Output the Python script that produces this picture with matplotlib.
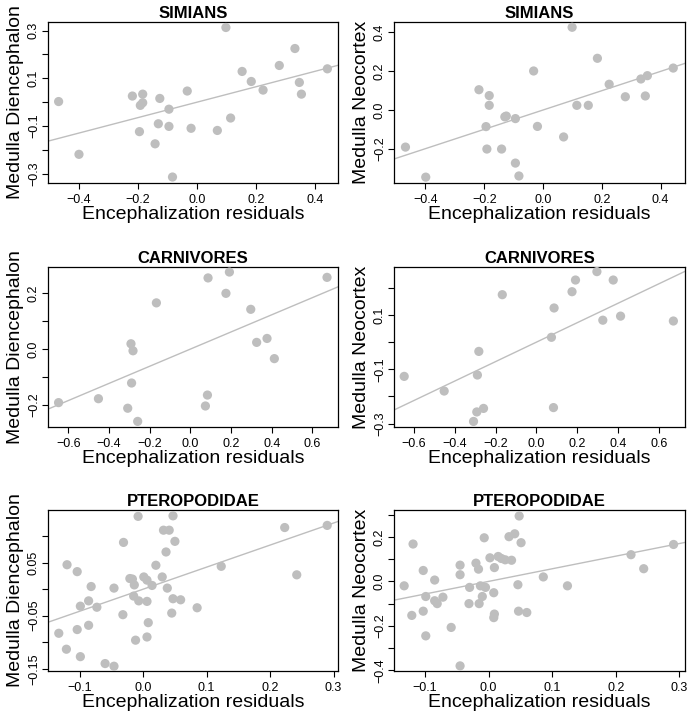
import matplotlib
matplotlib.use("Agg")
import matplotlib.pyplot as plt
import numpy as np

plt.rcParams['font.family'] = ['Liberation Sans', 'DejaVu Sans']

# ---------------- data ----------------
simians_x = [-0.468, -0.399, -0.218, -0.183, -0.191, -0.183, -0.194, -0.125, -0.130, -0.141,
             -0.094, -0.094, -0.082, -0.032, -0.019, 0.070, 0.099, 0.115, 0.154, 0.185,
             0.225, 0.280, 0.333, 0.348, 0.355, 0.443]
simians_dien = [0.003, -0.218, 0.026, 0.034, -0.013, -0.002, -0.123, 0.016, -0.090, -0.174,
                -0.029, -0.101, -0.313, 0.047, -0.109, -0.118, 0.313, -0.066, 0.129, 0.087,
                0.051, 0.154, 0.225, 0.083, 0.034, 0.140]
simians_neo = [-0.190, -0.344, 0.104, 0.074, -0.200, 0.024, -0.085, -0.031, -0.035, -0.200,
               -0.044, -0.272, -0.338, 0.200, -0.084, -0.138, 0.424, 0.024, 0.024, 0.265,
               0.132, 0.068, 0.159, 0.072, 0.176, 0.215]

carn_x = [-0.648, -0.452, -0.308, -0.292, -0.282, -0.289, -0.259, -0.167, 0.074, 0.084,
          0.087, 0.175, 0.192, 0.297, 0.326, 0.377, 0.413, 0.672]
carn_dien = [-0.191, -0.177, -0.211, 0.019, -0.006, -0.121, -0.258, 0.165, -0.203, -0.164,
             0.254, 0.199, 0.275, 0.142, 0.024, 0.038, -0.034, 0.256]
carn_neo = [-0.126, -0.180, -0.292, -0.257, -0.034, -0.121, -0.244, 0.175, 0.018, -0.241,
            0.126, 0.186, 0.229, 0.260, 0.081, 0.229, 0.096, 0.078]

ptero_x_dien = [-0.133, -0.121, -0.120, -0.104, -0.104, -0.099, -0.099, -0.086, -0.086, -0.082,
                -0.073, -0.060, -0.046, -0.046, -0.032, -0.031, -0.021, -0.017, -0.015, -0.014,
                -0.012, -0.008, -0.007, 0.001, 0.006, 0.006, 0.006, 0.008, 0.014, 0.020,
                0.030, 0.032, 0.036, 0.038, 0.041, 0.045, 0.047, 0.047, 0.050, 0.059,
                0.085, 0.123, 0.223, 0.242, 0.290]
ptero_dien = [-0.083, -0.113, 0.046, 0.033, -0.076, -0.127, -0.032, -0.022, -0.068, 0.005,
              -0.034, -0.140, 0.002, -0.145, -0.048, 0.088, 0.020, 0.019, -0.013, 0.008,
              -0.096, 0.137, -0.022, 0.023, 0.017, -0.023, -0.090, -0.063, 0.007, 0.045,
              0.023, 0.111, 0.070, 0.002, 0.111, -0.045, 0.138, -0.018, 0.090, -0.020,
              -0.035, 0.043, 0.116, 0.027, 0.120]
ptero_x_neo = [-0.133, -0.121, -0.119, -0.103, -0.103, -0.099, -0.099, -0.085, -0.085, -0.081,
               -0.072, -0.059, -0.045, -0.045, -0.045, -0.031, -0.030, -0.020, -0.016, -0.015,
               -0.013, -0.010, -0.007, -0.005, 0.002, 0.008, 0.008, 0.009, 0.009, 0.015,
               0.020, 0.026, 0.032, 0.036, 0.041, 0.046, 0.047, 0.048, 0.051, 0.060,
               0.086, 0.124, 0.224, 0.244, 0.291]
ptero_neo = [-0.020, -0.153, 0.168, 0.049, -0.134, -0.068, -0.245, 0.006, -0.087, -0.100,
             -0.071, -0.207, 0.073, 0.030, -0.380, -0.100, -0.027, 0.082, 0.055, -0.100,
             -0.020, -0.068, 0.196, -0.027, 0.106, -0.051, -0.163, 0.062, -0.147, 0.112,
             0.103, 0.097, 0.201, 0.095, 0.214, -0.015, -0.134, 0.294, 0.174, -0.140,
             0.020, -0.020, 0.120, 0.057, 0.166]

# fitted lines (slope, intercept)
fit_slopes = [0.323, 0.495, 0.306, 0.358, 0.415, 0.567]
fit_intercepts = [0.0, 0.0, 0.0, 0.0, 0.0, 0.0]

titles = ["SIMIANS", "SIMIANS", "CARNIVORES", "CARNIVORES", "PTEROPODIDAE", "PTEROPODIDAE"]
ylabels = ["Medulla Diencephalon", "Medulla Neocortex"] * 3
xlabel = "Encephalization residuals"

M = "\u2212"
xticks_sim = [-0.4, -0.2, 0.0, 0.2, 0.4]
xticklabels_sim = [M + "0.4", M + "0.2", "0.0", "0.2", "0.4"]
xticks_carn = [-0.6, -0.4, -0.2, 0.0, 0.2, 0.4, 0.6]
xticklabels_carn = [M + "0.6", M + "0.4", M + "0.2", "0.0", "0.2", "0.4", "0.6"]
xticks_pt = [-0.1, 0.0, 0.1, 0.2, 0.3]
xticklabels_pt = [M + "0.1", "0.0", "0.1", "0.2", "0.3"]

yticks = [
    [-0.3, -0.2, -0.1, 0.0, 0.1, 0.2, 0.3],
    [-0.2, 0.0, 0.2, 0.4],
    [-0.2, -0.1, 0.0, 0.1, 0.2],
    [-0.3, -0.2, -0.1, 0.0, 0.1, 0.2],
    [-0.15, -0.10, -0.05, 0.0, 0.05, 0.10],
    [-0.4, -0.3, -0.2, -0.1, 0.0, 0.1, 0.2, 0.3],
]
yticklabels = [
    [M + "0.3", "", M + "0.1", "", "0.1", "", "0.3"],
    [M + "0.2", "0.0", "0.2", "0.4"],
    [M + "0.2", "", "0.0", "", "0.2"],
    [M + "0.3", "", M + "0.1", "", "0.1", ""],
    [M + "0.15", "", M + "0.05", "", "0.05", ""],
    [M + "0.4", "", M + "0.2", "", "0.0", "", "0.2", ""],
]

xlims = [(-0.504, 0.479), (-0.507, 0.483), (-0.700, 0.726), (-0.698, 0.729),
         (-0.150, 0.307), (-0.149, 0.309)]
ylims = [(-0.338, 0.336), (-0.374, 0.451), (-0.278, 0.293), (-0.3125, 0.277),
         (-0.154, 0.149), (-0.403, 0.321)]

panels_x = [simians_x, simians_x, carn_x, carn_x, ptero_x_dien, ptero_x_neo]
panels_y = [simians_dien, simians_neo, carn_dien, carn_neo, ptero_dien, ptero_neo]
panels_xticks = [(xticks_sim, xticklabels_sim)] * 2 + [(xticks_carn, xticklabels_carn)] * 2 + \
                [(xticks_pt, xticklabels_pt)] * 2

# ---------------- layout ----------------
W, H = 693, 718
fig = plt.figure(figsize=(W / 100, H / 100), dpi=100)

col_px = [(48, 338), (394, 685)]
row_px = [(22, 183), (267, 427), (510, 671)]

grey = "#bebebe"
for i in range(6):
    r, c = divmod(i, 2)
    x0, x1 = col_px[c]
    y0, y1 = row_px[r]
    ax = fig.add_axes([x0 / W, 1 - y1 / H, (x1 - x0) / W, (y1 - y0) / H])
    ax.scatter(panels_x[i], panels_y[i], s=44, color=grey, edgecolors='none', zorder=3)
    ax.axline((0, fit_intercepts[i]), slope=fit_slopes[i], color=grey, lw=1.0, zorder=2)
    ax.set_xlim(*xlims[i])
    ax.set_ylim(*ylims[i])
    xt, xtl = panels_xticks[i]
    ax.set_xticks(xt)
    ax.set_xticklabels(xtl)
    ax.set_yticks(yticks[i])
    ax.set_yticklabels(yticklabels[i], rotation=90, va='center')
    ax.tick_params(direction='out', length=4.3, width=0.8, labelsize=9, color='black')
    ax.tick_params(axis='x', pad=3.5)
    ax.tick_params(axis='y', pad=1.5)
    for sp in ax.spines.values():
        sp.set_linewidth(0.9)
    ax.set_title(titles[i], fontsize=12, fontweight='bold', pad=3)
    ax.set_xlabel(xlabel, fontsize=14, labelpad=0)
    ax.set_ylabel(ylabels[i], fontsize=14, labelpad=2.5)

fig.savefig("out.png", dpi=100)
